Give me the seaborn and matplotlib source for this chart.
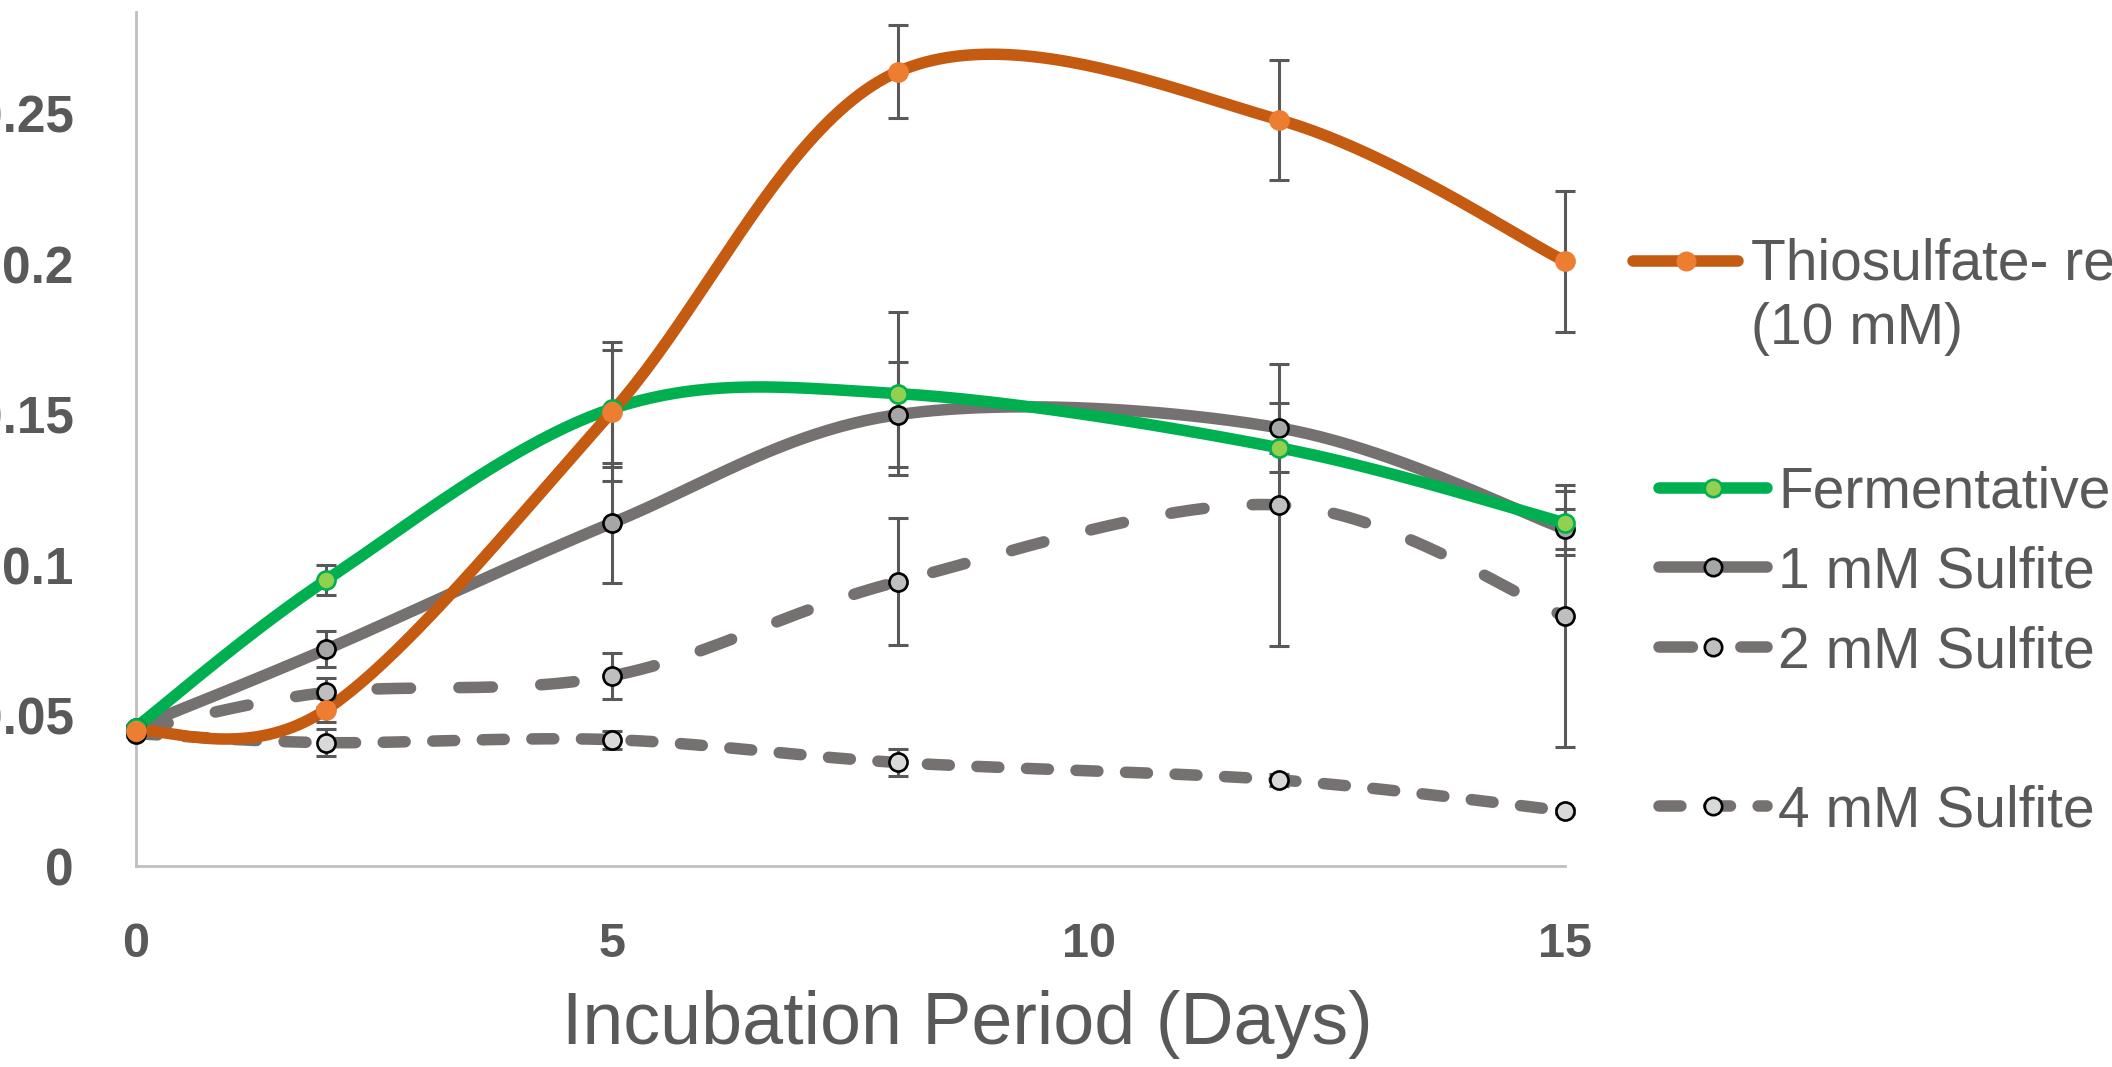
import numpy as np
import pandas as pd
import matplotlib
matplotlib.use("Agg")
import matplotlib.pyplot as plt
import seaborn as sns
from matplotlib.lines import Line2D

# ---------------- data ----------------
days = [0, 2, 5, 8, 12, 15]
series_names = ["Thiosulfate- reducing", "Fermentative", "1 mM Sulfite",
                "2 mM Sulfite", "4 mM Sulfite"]
thio = [0.045, 0.052, 0.151, 0.264, 0.248, 0.201]
thio_err = [0.001, 0.004, 0.023, 0.0155, 0.020, 0.0235]
ferm = [0.046, 0.095, 0.152, 0.157, 0.139, 0.114]
ferm_err = [0.001, 0.005, 0.0195, 0.027, 0.008, 0.0105]
s1 = [0.046, 0.072, 0.114, 0.150, 0.1456, 0.112]
s1_err = [0.001, 0.006, 0.020, 0.0174, 0.0083, 0.0065]
s2 = [0.045, 0.0577, 0.0632, 0.0945, 0.120, 0.083]
s2_err = [0.001, 0.0048, 0.0076, 0.021, 0.047, 0.0436]
s4 = [0.044, 0.041, 0.042, 0.0344, 0.0286, 0.0183]
s4_err = [0.001, 0.0045, 0.003, 0.0044, 0.002, 0.001]
xticks = [0, 5, 10, 15]
yticks = [0, 0.05, 0.1, 0.15, 0.2, 0.25]
ytick_labels = ["0", "0.05", "0.1", "0.15", "0.2", "0.25"]
xlabel = "Incubation Period (Days)"

# ---------------- style ----------------
sns.set_theme(style="white")
plt.rcParams['font.family'] = ['Liberation Sans', 'DejaVu Sans']
TXT = "#595959"

W, H = 2112, 1067
fig = plt.figure(figsize=(W / 100, H / 100), dpi=100)
ax_l, ax_r, ax_b, ax_t = 135.6, 1565.0, 866.0, 11.5
ax = fig.add_axes([ax_l / W, 1 - ax_b / H, (ax_r - ax_l) / W, (ax_b - ax_t) / H])


def excel_smooth(x, y, n=50):
    x = np.asarray(x, float)
    y = np.asarray(y, float)
    px = np.concatenate([[x[0]], x, [x[-1]]])
    py = np.concatenate([[y[0]], y, [y[-1]]])
    t = np.linspace(0, 1, n)[:, None]
    out = []
    for i in range(len(x) - 1):
        p0 = np.array([x[i], y[i]])
        p3 = np.array([x[i + 1], y[i + 1]])
        prev = np.array([px[i], py[i]])
        nxt = np.array([px[i + 3], py[i + 3]])
        c1 = p0 + (p3 - prev) / 6.0
        c2 = p3 - (nxt - p0) / 6.0
        seg = ((1 - t) ** 3) * p0 + 3 * ((1 - t) ** 2) * t * c1 + 3 * (1 - t) * t ** 2 * c2 + t ** 3 * p3
        out.append(seg if i == 0 else seg[1:])
    out = np.vstack(out)
    return out[:, 0], out[:, 1]


LW = 8.3
specs = [
    # values, err, line color, linestyle, marker face, marker edge, zorder
    (s4, s4_err, "#767171", (0, (1.9, 2.4)), "#D9D9D9", "#000000", 2.0),
    (s2, s2_err, "#767171", (0, (2.9, 4.2)), "#BFBFBF", "#000000", 2.1),
    (s1, s1_err, "#767171", "-", "#A6A6A6", "#000000", 2.2),
    (ferm, ferm_err, "#00B050", "-", "#92D050", "#00B050", 2.3),
    (thio, thio_err, "#C55A11", "-", "#ED7D31", "#ED7D31", 2.4),
]

for vals, err, lc, ls, mf, me, z in specs:
    xs, ys = excel_smooth(days, vals)
    df = pd.DataFrame({"x": xs, "y": ys})
    sns.lineplot(data=df, x="x", y="y", ax=ax, sort=False, estimator=None,
                 color=lc, linewidth=LW, linestyle=ls, dash_capstyle="round",
                 solid_capstyle="round", zorder=z, clip_on=False, legend=False)

for vals, err, lc, ls, mf, me, z in specs:
    ax.errorbar(days, vals, yerr=err, fmt="none", ecolor="#595959",
                elinewidth=2.2, capsize=7.5, capthick=2.2, zorder=3 + z / 10,
                clip_on=False)

for vals, err, lc, ls, mf, me, z in specs:
    pts = pd.DataFrame({"x": days, "y": vals})
    sns.scatterplot(data=pts, x="x", y="y", ax=ax, color=mf, edgecolor=me,
                    s=170, linewidth=1.9, zorder=4 + z / 10, clip_on=False,
                    legend=False)

ax.set_xlim(0, 15)
ax.set_ylim(0, 0.284)
ax.set_xticks(xticks)
ax.set_xticklabels([str(v) for v in xticks])
ax.set_yticks(yticks, labels=ytick_labels)
for s in ["top", "right"]:
    ax.spines[s].set_visible(False)
for s in ["left", "bottom"]:
    ax.spines[s].set_color("#BFBFBF")
    ax.spines[s].set_linewidth(2.0)
ax.tick_params(axis="both", length=0, labelcolor=TXT)
ax.tick_params(axis="y", pad=44.5, labelsize=37)
ax.tick_params(axis="x", pad=40, labelsize=35)
for lab in ax.get_xticklabels() + ax.get_yticklabels():
    lab.set_fontweight("bold")
ax.set_xlabel(xlabel, fontsize=53, color=TXT)
ax.xaxis.set_label_coords(0.582, -0.185)
ax.xaxis.label.set_va("center")
ax.set_ylabel("")
ax.grid(False)
ax.set_facecolor("white")


def handle(lc, ls, mf, me):
    return Line2D([], [], color=lc, lw=LW, linestyle=ls, dash_capstyle="round",
                  solid_capstyle="round", marker="o", markersize=12.5,
                  markerfacecolor=mf, markeredgecolor=me, markeredgewidth=1.9)


blank = Line2D([], [], color="none", lw=0)
LEG_FS = 41

# legend A: thiosulfate (two lines)
legA = fig.legend(
    handles=[handle(*specs[4][2:6]), blank],
    labels=[series_names[0], "(10 mM)"],
    loc="center left", bbox_to_anchor=(1633 / W, 1 - 297 / H),
    frameon=False, fontsize=LEG_FS, labelcolor=TXT, borderpad=0,
    borderaxespad=0, handlelength=1.85, handletextpad=0.23, labelspacing=0.16)

# legend B: the rest
legB = fig.legend(
    handles=[handle(*specs[3][2:6]), handle(*specs[2][2:6]),
             handle(*specs[1][2:6]), blank, handle(*specs[0][2:6])],
    labels=[series_names[1], series_names[2], series_names[3], "", series_names[4]],
    loc="center left", bbox_to_anchor=(1659 / W, 1 - 652 / H),
    frameon=False, fontsize=LEG_FS, labelcolor=TXT, borderpad=0,
    borderaxespad=0, handlelength=1.9, handletextpad=0.19, labelspacing=0.45)

fig.savefig("out.png", dpi=100, facecolor="white")
